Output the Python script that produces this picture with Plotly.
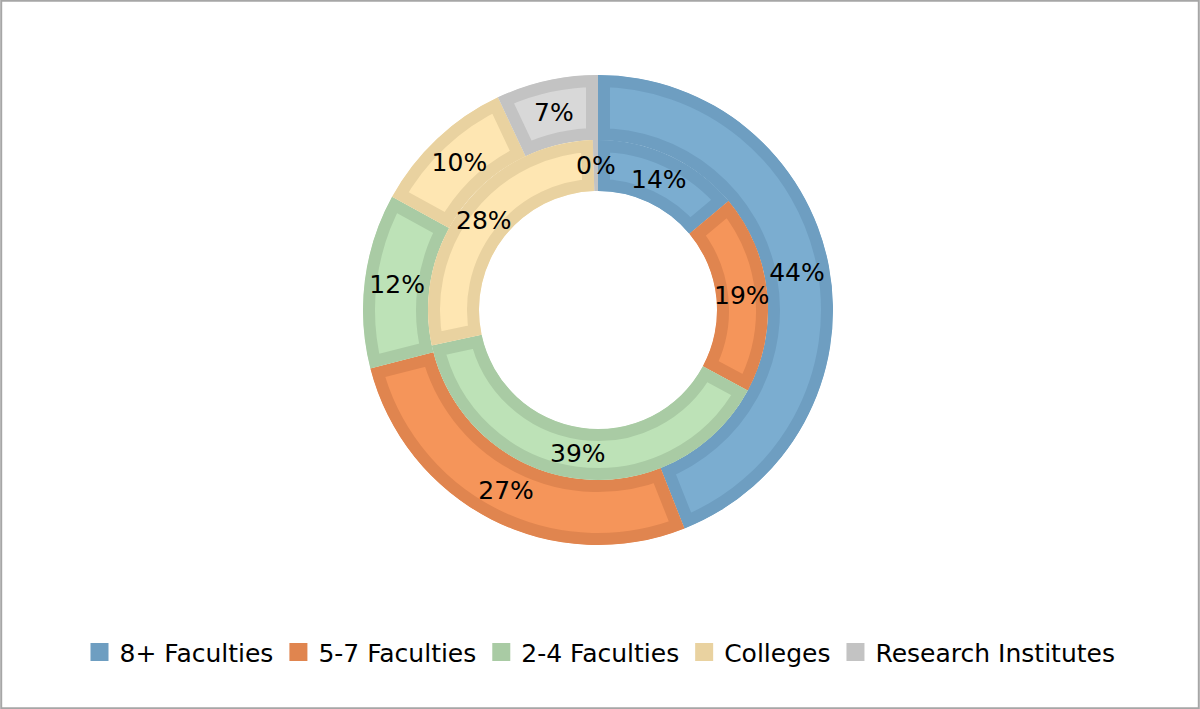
import math
import plotly.graph_objects as go

labels = ["8+ Faculties", "5-7 Faculties", "2-4 Faculties", "Colleges", "Research Institutes"]
outer_values = [44, 27, 12, 10, 7]
inner_values = [14, 19, 39, 28, 0.49]

fill_colors = ["#7badd0", "#f5955a", "#bde2b7", "#fee6b2", "#d8d8d8"]
edge_colors = ["#6e9ec1", "#e0854f", "#a9cba4", "#e9d2a0", "#c3c3c3"]

W, H = 1200, 709
cx, cy = 598, 310          # centre of the rings in pixels
r_out, r_mid, r_hole = 235, 170, 119
border = 24                # stroke is clipped to the slice, so 12px shows
FONT = "DejaVu Sans, sans-serif"
LABEL_SIZE = 25


def dom(r):
    return dict(x=[(cx - r) / W, (cx + r) / W],
                y=[(H - cy - r) / H, (H - cy + r) / H])


common = dict(
    labels=labels, sort=False, direction="clockwise", rotation=0,
    hoverinfo="label+percent",
)

fig = go.Figure()
fig.add_trace(go.Pie(
    values=outer_values, hole=r_mid / r_out, domain=dom(r_out),
    marker=dict(colors=fill_colors, line=dict(color=edge_colors, width=border)),
    texttemplate="%{percent:.0%}", textposition="inside",
    insidetextorientation="horizontal",
    textfont=dict(family=FONT, size=LABEL_SIZE, color="black"),
    showlegend=True, **common))
fig.add_trace(go.Pie(
    values=inner_values, hole=r_hole / r_mid, domain=dom(r_mid),
    marker=dict(colors=fill_colors, line=dict(color=edge_colors, width=border)),
    textinfo="none", showlegend=False, **common))

# inner ring labels sit at the middle of each slice (plotly would push
# them to the 3/6/9 o'clock points)
total = sum(inner_values)
start = 0.0
r_lab = (r_hole + r_mid) / 2
for v in inner_values:
    mid = (start + v / 2) / total * 2 * math.pi
    start += v
    fig.add_annotation(
        x=(cx + r_lab * math.sin(mid)) / W, y=(H - cy + r_lab * math.cos(mid)) / H,
        xref="paper", yref="paper", text=f"{v / total * 100:.0f}%", showarrow=False,
        xanchor="center", yanchor="middle",
        font=dict(family=FONT, size=LABEL_SIZE, color="black"))

# outer frame
fig.add_shape(type="rect", xref="paper", yref="paper", x0=0.001, x1=0.999,
              y0=0.001, y1=0.999, line=dict(color="#a6a6a6", width=2), layer="above")

fig.update_layout(
    width=W, height=H,
    margin=dict(l=0, r=0, t=0, b=0),
    paper_bgcolor="white", plot_bgcolor="white",
    font=dict(family=FONT, color="black"),
    uniformtext=dict(minsize=LABEL_SIZE, mode="show"),
    legend=dict(orientation="h", x=0.5, xanchor="center", y=0.08, yanchor="middle",
                font=dict(size=25, color="black"), itemwidth=30),
)

# clip each slice's stroke to the slice itself so borders sit inside,
# bigger solid legend squares, and no page margin
post = """
document.body.style.margin = '0';
var gd = document.getElementById('{plot_id}');
var defs = gd.querySelector('svg.main-svg defs');
var ns = 'http://www.w3.org/2000/svg';
gd.querySelectorAll('.pielayer g.slice path.surface').forEach(function (p, i) {
  var cp = document.createElementNS(ns, 'clipPath');
  cp.setAttribute('id', 'sliceclip' + i);
  var q = document.createElementNS(ns, 'path');
  q.setAttribute('d', p.getAttribute('d'));
  if (p.getAttribute('transform')) q.setAttribute('transform', p.getAttribute('transform'));
  cp.appendChild(q);
  defs.appendChild(cp);
  p.setAttribute('clip-path', 'url(#sliceclip' + i + ')');
});
gd.querySelectorAll('.legend path.legendpie').forEach(function (p) {
  p.setAttribute('d', 'M9,9H-9V-9H9Z');
  p.style.fill = p.style.stroke;
  p.style.strokeWidth = '0';
});
"""

fig.write_html("out.html", post_script=post, config={"displayModeBar": False})
